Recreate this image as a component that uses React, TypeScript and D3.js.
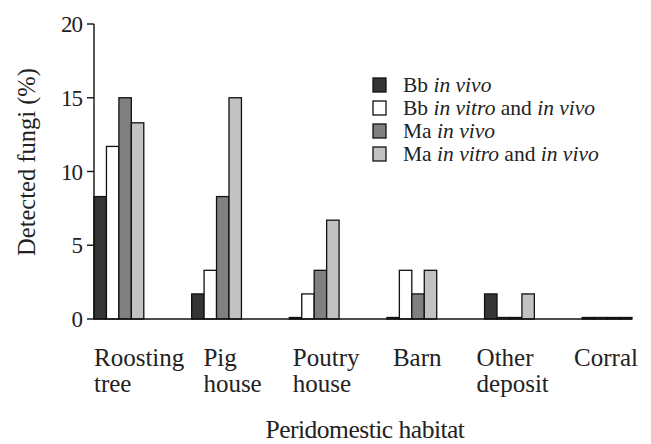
import React from 'react'
import * as d3 from 'd3'

const categories = ['Roosting tree', 'Pig house', 'Poutry house', 'Barn', 'Other deposit', 'Corral']
const seriesNames = ['Bb in vivo', 'Bb in vitro and in vivo', 'Ma in vivo', 'Ma in vitro and in vivo']
const bbInVivo = [8.3, 1.7, 0, 0, 1.7, 0]
const bbInVitroInVivo = [11.7, 3.3, 1.7, 3.3, 0, 0]
const maInVivo = [15, 8.3, 3.3, 1.7, 0, 0]
const maInVitroInVivo = [13.3, 15, 6.7, 3.3, 1.7, 0]
const yTicks = [0, 5, 10, 15, 20]

const seriesValues = [bbInVivo, bbInVitroInVivo, maInVivo, maInVitroInVivo]
const fills = ['#353535', '#ffffff', '#808080', '#c2c2c2']
const font = '"Liberation Serif", "Times New Roman", serif'

// legend labels: plain parts and italic parts
const legendParts: Array<Array<[string, boolean]>> = [
  [['Bb ', false], ['in vivo', true]],
  [['Bb ', false], ['in vitro', true], [' and ', false], ['in vivo', true]],
  [['Ma ', false], ['in vivo', true]],
  [['Ma ', false], ['in vitro', true], [' and ', false], ['in vivo', true]],
]

export default function App() {
  const width = 651
  const height = 444

  const x = d3.scaleBand<string>()
    .domain(categories)
    .range([94, 632])
    .paddingInner(0.49)
    .paddingOuter(0)

  const xInner = d3.scaleBand<number>()
    .domain(d3.range(seriesValues.length))
    .range([0, x.bandwidth()])

  // category labels sit on their own, slightly wider spacing
  const xLabel = d3.scalePoint<string>()
    .domain(categories)
    .range([134, 606])

  const y = d3.scaleLinear().domain([0, 20]).range([319, 24])

  return (
    <svg width={width} height={height}
      style={{ position: 'absolute', left: 0, top: 0, background: '#fff', fontFamily: font }}>
      {/* bars */}
      {categories.map((c, ci) => (
        <g key={c} transform={`translate(${x(c)},0)`}>
          {seriesValues.map((vals, si) => {
            const h = Math.max(y(0) - y(vals[ci]), 1.5)
            return (
              <rect key={si}
                x={xInner(si)} y={y(0) - h}
                width={xInner.bandwidth()} height={h}
                fill={fills[si]} stroke="#111" strokeWidth={1.3} />
            )
          })}
        </g>
      ))}

      {/* y axis */}
      <line x1={94} x2={94} y1={y(20)} y2={y(0)} stroke="#111" strokeWidth={1.4} />
      {yTicks.map(t => (
        <g key={t}>
          <line x1={87} x2={94} y1={y(t)} y2={y(t)} stroke="#111" strokeWidth={1.4} />
          <text x={82} y={y(t)} dy="0.35em" textAnchor="end" fontSize={23} fill="#222"
            letterSpacing={-1}>{t}</text>
        </g>
      ))}
      {/* x axis line */}
      <line x1={94} x2={632} y1={y(0)} y2={y(0)} stroke="#111" strokeWidth={1.4} />

      {/* category labels */}
      {categories.map(c => {
        const lines = c.split(' ')
        const cx = xLabel(c) as number
        if (lines.length === 1) {
          return (
            <text key={c} x={cx} y={366} textAnchor="middle" fontSize={25} fill="#222">{c}</text>
          )
        }
        // two-line labels: left aligned block, centred on the label position
        const approx = d3.max(lines, l => l.length) as number
        const left = cx - (approx * 25 * 0.4) / 2
        return (
          <text key={c} x={left} y={366} fontSize={25} fill="#222">
            {lines.map((l, i) => (
              <tspan key={i} x={left} dy={i === 0 ? 0 : 26}>{l}</tspan>
            ))}
          </text>
        )
      })}

      {/* axis titles */}
      <text x={365} y={438} textAnchor="middle" fontSize={25.5} fill="#222" letterSpacing={-0.5}>
        Peridomestic habitat
      </text>
      <text transform={`translate(35,${162}) rotate(-90)`} textAnchor="middle" fontSize={24.5} fill="#222">
        Detected fungi (%)
      </text>

      {/* legend */}
      {seriesNames.map((name, i) => {
        const cy = 85 + i * 23
        return (
          <g key={name}>
            <rect x={373} y={cy - 7} width={13} height={14} fill={fills[i]} stroke="#111" strokeWidth={1.3} />
            <text x={403} y={cy} dy="0.33em" fontSize={21.5} fill="#222">
              {legendParts[i].map(([t, it], k) => (
                <tspan key={k} fontStyle={it ? 'italic' : 'normal'}>{t}</tspan>
              ))}
            </text>
          </g>
        )
      })}
    </svg>
  )
}
